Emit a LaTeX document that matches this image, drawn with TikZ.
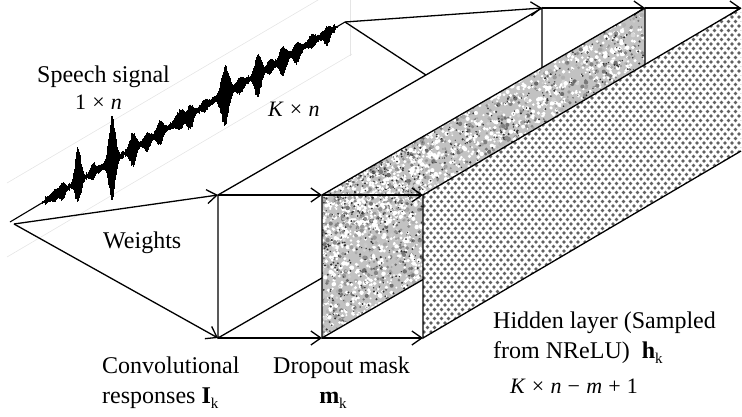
\documentclass[tikz,border=0pt]{standalone}
\usepackage{fontspec}
\setmainfont{Liberation Serif}
\usetikzlibrary{arrows.meta}
\newcommand\ksub{\raisebox{-0.22em}{\fontsize{15}{15}\selectfont k}}
\newcommand\opsp{\hspace{0.28em}}
\newcommand\vb[1]{\textit{#1}}

\begin{document}
\begin{tikzpicture}[x=1pt,y=-1pt,
  edge/.style={line width=1.3pt, line join=miter},
  flow/.style={line width=1.3pt, -{Straight Barb[length=10pt,width=14pt,line width=1.3pt]}},
  lbl/.style={inner sep=0pt, anchor=base west, font=\fontsize{24}{28}\selectfont},
  mth/.style={inner sep=0pt, anchor=base west, font=\fontsize{22}{24}\selectfont},
  faint/.style={black!10, line width=0.6pt}
]
\useasboundingbox (0,0) rectangle (742,417);

% corner points of the three layers and the weight apexes
\coordinate (src) at (10,222);
\coordinate (wA)  at (14,224);
\coordinate (wB)  at (345,22);
\coordinate (cFT) at (218,195); \coordinate (cFB) at (218,338);
\coordinate (cBT) at (542,8);   \coordinate (cBB) at (542,151);
\coordinate (dFT) at (322,195); \coordinate (dFB) at (322,338);
\coordinate (dBT) at (645,8);   \coordinate (dBB) at (645,151);
\coordinate (hFT) at (423,195); \coordinate (hFB) at (423,338);
\coordinate (hBT) at (741,8);   \coordinate (hBB) at (741,151);

% faint frame around the signal
\draw[faint] (7,183) -- (352,-20);
\draw[faint] (7,257) -- (352,54);
\draw[faint] (350,0) -- (350,56);

% speech signal: time runs along the diagonal, amplitude is vertical
\draw[line width=1.1pt] (src) -- (wB);
\pgfmathsetseed{11}
% low-level noise band
\foreach \k in {0,...,580}{
  \pgfmathsetmacro\xx{45+\k*0.5}
  \pgfmathsetmacro\cc{222-(\xx-10)*0.597}
  \pgfmathsetmacro\aa{1.5+3*rnd}
  \draw[line width=0.7pt] (\xx,\cc-\aa) -- (\xx,\cc+\aa);
}
% bursts: centre / up / down / width
\foreach \xo/\au/\ad/\s in {
  55/6/6/5, 62/8/9/4, 78/36/22/4, 93/10/7/3.5, 112/45/39/4.5,
  133/16/18/4.5, 147/7/11/4, 160/12/12/4.5, 180/11/9/6, 190/9/16/4.5,
  205/6/6/5, 225/28/33/5.5, 240/7/9/5, 258/20/24/4.5, 270/7/7/4,
  283/12/17/5, 297/8/13/5, 312/7/7/5, 327/6/13/4}{
  \foreach \k in {-30,...,30}{
    \pgfmathsetmacro\xx{\xo+\k*\s/12}
    \pgfmathsetmacro\cc{222-(\xx-10)*0.597}
    \pgfmathsetmacro\ee{exp(-(\k*\k)/144)}
    \pgfmathsetmacro\yt{\cc-\au*\ee*(0.7+0.3*rnd)-1}
    \pgfmathsetmacro\yb{\cc+\ad*\ee*(0.7+0.3*rnd)+1}
    \draw[line width=0.9pt] (\xx,\yt) -- (\xx,\yb);
  }
}

% weights
\draw[flow] (wA) -- (cFT);
\draw[flow] (wA) -- (cFB);
\draw[edge] (wB) -- (cBB);

% convolutional responses layer
\filldraw[edge, fill=white] (cFT) -- (cBT) -- (cBB) -- (cFB) -- cycle;

% dropout mask layer: mottled texture
\begin{scope}
  \clip (dFT) -- (dBT) -- (dBB) -- (dFB) -- cycle;
  \fill[black!24] (dFT) -- (dBT) -- (dBB) -- (dFB) -- cycle;
  \pgfmathsetseed{5}
  \foreach \i in {1,...,1000}{
    \pgfmathsetmacro\uu{rnd}\pgfmathsetmacro\vv{rnd}
    \pgfmathsetmacro\rr{1+1.3*rnd}
    \pgfmathtruncatemacro\gg{rnd<0.55 ? 0 : 15+45*rnd}
    \fill[black!\gg] ({322+\uu*101},{195-\uu*58.5+\vv*143}) circle (\rr);
  }
  \foreach \i in {1,...,1400}{
    \pgfmathsetmacro\uu{rnd}\pgfmathsetmacro\vv{rnd}
    \pgfmathsetmacro\rr{1+1.3*rnd}
    \pgfmathtruncatemacro\gg{rnd<0.55 ? 0 : 15+45*rnd}
    \fill[black!\gg] ({322+\uu*323},{195-\uu*187+\vv*64}) circle (\rr);
  }
  \foreach \i in {1,...,250}{
    \pgfmathsetmacro\uu{rnd}\pgfmathsetmacro\vv{rnd}
    \pgfmathsetmacro\rr{0.5+0.7*rnd}
    \fill[black!80] ({322+\uu*101},{195-\uu*58.5+\vv*143}) circle (\rr);
  }
  \foreach \i in {1,...,350}{
    \pgfmathsetmacro\uu{rnd}\pgfmathsetmacro\vv{rnd}
    \pgfmathsetmacro\rr{0.5+0.7*rnd}
    \fill[black!80] ({322+\uu*323},{195-\uu*187+\vv*64}) circle (\rr);
  }
\end{scope}
\draw[edge] (dFB) -- (dFT) -- (dBT) -- (dBB) -- cycle;

% hidden layer: dotted pattern, one path per row
\fill[white] (hFT) -- (hBT) -- (hBB) -- (hFB) -- cycle;
\begin{scope}
  \clip (hFT) -- (hBT) -- (hBB) -- (hFB) -- cycle;
  \foreach \r in {0,...,74}{
    \fill[black!62] \foreach \c in {0,...,46}{
        ({424+7*\c+3.5*mod(\r,2)},{8+4.5*\r}) circle (1.8)
      };
  }
\end{scope}
\draw[edge] (hBT) -- (hFT) -- (hFB) -- (hBB);

% flow along the layer edges
\draw[flow] (cFT) -- (dFT);
\draw[flow] (dFT) -- (hFT);
\draw[flow] (cFB) -- (dFB);
\draw[flow] (dFB) -- (hFB);
\draw[flow] (wB) -- (cBT);
\draw[flow] (cBT) -- (dBT);
\draw[flow] (dBT) -- (hBT);

% labels
\node[lbl] (speech) at (37,83) {Speech signal};
\node[mth] (dim1) at (75,110) {1\opsp×\opsp\vb{n}};
\node[mth] (dimK) at (268,117) {\vb{K}\opsp×\opsp\vb{n}};
\node[lbl] (weights) at (103,248) {Weights};
\node[lbl] (conv1) at (102,373) {Convolutional};
\node[lbl] (conv2) at (102,403) {responses \textbf{I}\ksub};
\node[lbl] (drop1) at (273,373) {Dropout mask};
\node[lbl, anchor=base] (drop2) at (333,403) {\textbf{m}\ksub};
\node[lbl] (hid1) at (493,328) {Hidden layer (Sampled};
\node[lbl] (hid2) at (493,358) {from NReLU)\ \ \textbf{h}\ksub};
\node[mth] (hid3) at (510,393) {\vb{K}\opsp×\opsp\vb{n}\opsp−\opsp\vb{m}\opsp+\opsp1};
\end{tikzpicture}
\end{document}
